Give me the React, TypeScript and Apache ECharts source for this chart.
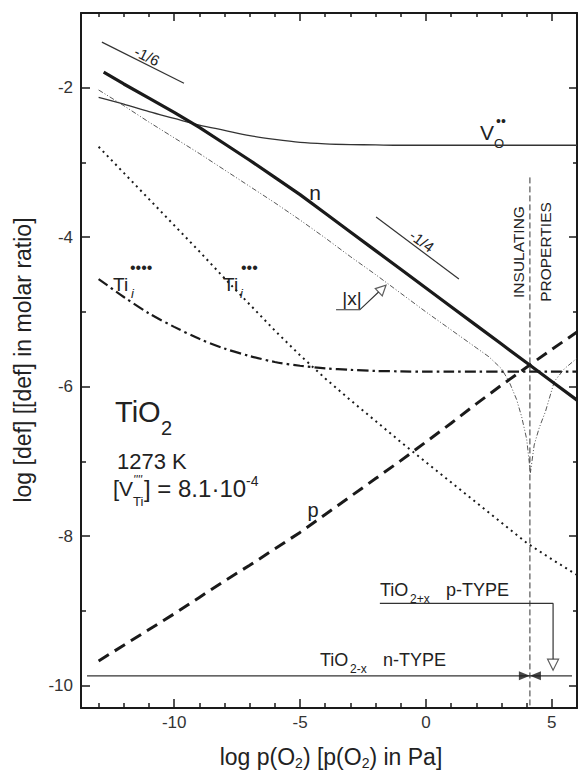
import React, { useEffect, useRef } from "react";
import * as echarts from "echarts";

const FONT = "'Liberation Sans', Arial, Helvetica, sans-serif";

// axis ranges and ticks
const X_MIN = -13.7;
const X_MAX = 6.0;
const Y_MIN = -10.3;
const Y_MAX = -1.0;
const xMajorTicks = [-10, -5, 0, 5];
const xMinorTicks = [-13, -12, -11, -9, -8, -7, -6, -4, -3, -2, -1, 1, 2, 3, 4];
const yMajorTicks = [-10, -8, -6, -4, -2];
const yMinorTicks = [-9, -7, -5, -3, -1];

// log p(O2) grid used by most curves
const pO2 = [-13, -12, -11, -10, -9, -8, -7, -6, -5, -4, -3, -2, -1, 0, 1, 2, 3, 4, 5, 6];

// n (electrons)
const nX = [-12.8, -12, -11, -10, -9, -8, -7, -6, -5, -4, -3, -2, -1, 0, 1, 2, 3, 4, 5, 6];
const nY = [-1.79, -1.95, -2.14, -2.33, -2.53, -2.75, -2.97, -3.2, -3.43, -3.68, -3.93, -4.18, -4.43, -4.68, -4.93, -5.18, -5.43, -5.68, -5.93, -6.18];
// oxygen vacancies
const vOY = [-2.13, -2.22, -2.32, -2.41, -2.5, -2.57, -2.64, -2.69, -2.73, -2.75, -2.76, -2.765, -2.77, -2.77, -2.77, -2.77, -2.77, -2.77, -2.77, -2.77];
// Ti interstitials (4+)
const ti4Y = [-4.56, -4.8, -5.02, -5.2, -5.36, -5.49, -5.59, -5.67, -5.72, -5.755, -5.775, -5.79, -5.795, -5.8, -5.8, -5.8, -5.8, -5.8, -5.8, -5.8];
// Ti interstitials (3+)
const ti3Y = [-2.79, -3.14, -3.49, -3.84, -4.19, -4.55, -4.9, -5.25, -5.58, -5.89, -6.18, -6.46, -6.74, -7.01, -7.28, -7.55, -7.82, -8.09, -8.31, -8.52];
// p (electron holes)
const pY = [-9.67, -9.46, -9.25, -9.04, -8.82, -8.6, -8.39, -8.17, -7.95, -7.71, -7.47, -7.23, -6.99, -6.74, -6.49, -6.23, -5.98, -5.74, -5.5, -5.27];
// |x| deviation from stoichiometry
const absXX = [-13, -12, -11, -10, -9, -8, -7, -6, -5, -4, -3, -2, -1, 0, 1, 2, 2.5, 3, 3.3, 3.6, 3.8, 4.0, 4.15, 4.3, 4.5, 4.75, 5.1, 5.5, 6];
const absXY = [-2.03, -2.24, -2.46, -2.67, -2.88, -3.1, -3.32, -3.54, -3.77, -4.01, -4.26, -4.5, -4.75, -5.0, -5.24, -5.48, -5.6, -5.76, -5.93, -6.17, -6.4, -6.7, -7.15, -6.78, -6.55, -6.33, -5.93, -5.76, -5.62];

// annotation geometry in data coordinates
const slopeSixthLine = [[-12.87, -1.39], [-9.61, -1.94]];
const slopeQuarterLine = [[-1.98, -3.73], [1.31, -4.56]];
const insulatingLine = [[4.13, -3.2], [4.13, -10.3]];
const nTypeLine = [[-13.46, -9.87], [5.8, -9.87]];
const pTypeLine = [[-1.83, -8.9], [5.05, -8.9], [5.05, -9.65]];
const pTypeHead = [[5.05, -9.72]];
const bowtieLeft = [3.91, -9.87];
const bowtieRight = [4.35, -9.87];
const absXArrow = [[-3.57, -4.97], [-2.62, -4.97], [-1.87, -4.73]];
const absXHead = [[-1.73, -4.69]];

const zip = (xs: number[], ys: number[]) => xs.map((x, i) => [x, ys[i]]);

const INK = "#1a1a1a";

function xAxisDef(position: string, ticks: number[], len: number, main: boolean) {
  return {
    type: "value",
    min: X_MIN,
    max: X_MAX,
    position,
    axisLine: { show: main, onZero: false, lineStyle: { color: INK, width: 2 } },
    axisTick: { show: true, inside: true, length: len, customValues: ticks, lineStyle: { color: INK, width: 1.5 } },
    axisLabel: {
      show: main && position === "bottom",
      customValues: ticks,
      margin: 6,
      fontSize: 17,
      fontFamily: FONT,
      color: "#333",
    },
    splitLine: { show: false },
  };
}

function yAxisDef(position: string, ticks: number[], len: number, main: boolean) {
  return {
    type: "value",
    min: Y_MIN,
    max: Y_MAX,
    position,
    axisLine: { show: main, onZero: false, lineStyle: { color: INK, width: 2 } },
    axisTick: { show: true, inside: true, length: len, customValues: ticks, lineStyle: { color: INK, width: 1.5 } },
    axisLabel: {
      show: main && position === "left",
      customValues: ticks,
      margin: 8,
      fontSize: 17,
      fontFamily: FONT,
      color: "#333",
    },
    splitLine: { show: false },
  };
}

function txt(x: number, y: number, text: string, size: number, opts: any = {}) {
  const { align = "left", rotation = 0, italic = false, weight = "normal" } = opts;
  return {
    type: "text",
    x,
    y,
    rotation,
    silent: true,
    style: {
      text,
      fontSize: size,
      fontFamily: FONT,
      fontStyle: italic ? "italic" : "normal",
      fontWeight: weight,
      fill: "#222",
      align,
      textAlign: align,
      verticalAlign: "middle",
      textVerticalAlign: "middle",
    },
  };
}

function lineSeries(data: number[][], style: any, extra: any = {}) {
  return {
    type: "line",
    data,
    symbol: "none",
    silent: true,
    xAxisIndex: 0,
    yAxisIndex: 0,
    lineStyle: style,
    ...extra,
  };
}

export default function App() {
  const ref = useRef<HTMLDivElement>(null);

  useEffect(() => {
    if (!ref.current) return;
    const chart = echarts.init(ref.current, undefined, { renderer: "svg" });

    const option: any = {
      animation: false,
      backgroundColor: "#fff",
      grid: { left: 81, right: 1, top: 13, bottom: 63, containLabel: false, outerBoundsMode: "none" },
      xAxis: [
        xAxisDef("bottom", xMajorTicks, 9, true),
        xAxisDef("bottom", xMinorTicks, 5, false),
        xAxisDef("top", xMajorTicks, 8, true),
        xAxisDef("top", xMinorTicks, 4, false),
      ],
      yAxis: [
        yAxisDef("left", yMajorTicks, 9, true),
        yAxisDef("left", yMinorTicks, 5, false),
        yAxisDef("right", yMajorTicks, 8, true),
        yAxisDef("right", yMinorTicks, 4, false),
      ],
      series: [
        lineSeries(zip(pO2, vOY), { color: "#333", width: 1.3 }, { smooth: 0.3 }),
        lineSeries(zip(absXX, absXY), { color: "#444", width: 0.9, type: [5, 2, 1, 2, 1, 2] }),
        lineSeries(zip(pO2, ti4Y), { color: INK, width: 2.2, type: [11, 4, 2.5, 4] }, { smooth: 0.3 }),
        lineSeries(zip(pO2, ti3Y), { color: INK, width: 2, type: [2, 4] }),
        lineSeries(zip(pO2, pY), { color: INK, width: 3, type: [12, 7] }),
        lineSeries(zip(nX, nY), { color: INK, width: 3.2 }),
        lineSeries(slopeSixthLine, { color: "#333", width: 1.2 }),
        lineSeries(slopeQuarterLine, { color: "#333", width: 1.2 }),
        lineSeries(insulatingLine, { color: "#333", width: 1, type: [6, 3] }),
        lineSeries(nTypeLine, { color: "#333", width: 1.2 }),
        lineSeries(pTypeLine, { color: "#333", width: 1.2 }),
        lineSeries(absXArrow, { color: "#333", width: 1.1 }),
        {
          type: "scatter",
          silent: true,
          data: pTypeHead,
          symbol: "triangle",
          symbolSize: [11, 11],
          symbolRotate: 180,
          itemStyle: { color: "#fff", borderColor: "#333", borderWidth: 1.2 },
          z: 5,
        },
        {
          type: "scatter",
          silent: true,
          data: absXHead,
          symbol: "triangle",
          symbolSize: [10, 10],
          symbolRotate: -46,
          itemStyle: { color: "#fff", borderColor: "#333", borderWidth: 1.2 },
          z: 5,
        },
        {
          type: "scatter",
          silent: true,
          data: [
            { value: bowtieLeft, symbolRotate: -90 },
            { value: bowtieRight, symbolRotate: 90 },
          ],
          symbol: "triangle",
          symbolSize: [9, 11],
          itemStyle: { color: INK },
          z: 5,
        },
      ],
      graphic: [
        // axis titles
        {
          type: "text",
          x: 331,
          y: 757,
          silent: true,
          style: {
            text: "{a|log p(O}{s|2}{a|) [p(O}{s|2}{a|) in Pa]}",
            align: "center",
            textAlign: "center",
            verticalAlign: "middle",
            textVerticalAlign: "middle",
            rich: {
              a: { fontSize: 23, fontFamily: FONT, fill: "#222", lineHeight: 26 },
              s: { fontSize: 14, fontFamily: FONT, fill: "#222", lineHeight: 12, verticalAlign: "bottom" },
            },
          },
        },
        txt(23, 360, "log [def] [[def] in molar ratio]", 23, { align: "center", rotation: Math.PI / 2 }),
        // slope markers
        txt(147, 56, "-1/6", 15, { align: "center", rotation: -0.46 }),
        txt(422, 241, "-1/4", 15, { align: "center", rotation: -0.635 }),
        // curve labels
        txt(315, 192, "n", 21, { align: "center" }),
        txt(480, 132, "V", 21),
        txt(494, 143, "O", 13),
        txt(496, 121, "••", 14),
        txt(113, 284, "Ti", 19),
        txt(131, 293, "i", 13, { italic: true }),
        txt(130, 267, "••••", 16),
        txt(223, 284, "Ti", 19),
        txt(240, 293, "i", 13, { italic: true }),
        txt(241, 267, "•••", 16),
        txt(352, 298, "|x|", 19, { align: "center" }),
        txt(313, 510, "p", 20, { align: "center" }),
        txt(518, 252, "INSULATING", 15.5, { align: "center", rotation: Math.PI / 2 }),
        txt(545, 252, "PROPERTIES", 15.5, { align: "center", rotation: Math.PI / 2 }),
        // conditions
        txt(115, 412, "TiO", 29),
        txt(161, 428, "2", 20),
        txt(117, 461, "1273 K", 22),
        txt(113, 488, "[", 22),
        txt(119, 488, "V", 21),
        txt(133, 480, "''''", 12, { italic: true }),
        txt(133, 501, "Ti", 13),
        {
          type: "text",
          x: 144,
          y: 488,
          silent: true,
          style: {
            text: "{m|] = 8.1·10}{s|-4}",
            align: "left",
            textAlign: "left",
            verticalAlign: "middle",
            textVerticalAlign: "middle",
            rich: {
              m: { fontSize: 24, fontFamily: FONT, fill: "#222", lineHeight: 28 },
              s: { fontSize: 14, fontFamily: FONT, fill: "#222", lineHeight: 2, verticalAlign: "top" },
            },
          },
        },
        // conduction type annotations
        txt(320, 660, "TiO", 18),
        txt(350, 669, "2-x", 12),
        txt(383, 660, "n-TYPE", 18),
        txt(380, 590, "TiO", 18),
        txt(410, 599, "2+x", 12),
        txt(446, 590, "p-TYPE", 18),
      ],
    };

    chart.setOption(option);
    return () => chart.dispose();
  }, []);

  return (
    <div
      ref={ref}
      style={{ position: "fixed", left: 0, top: 0, width: 578, height: 771, background: "#fff" }}
    />
  );
}
